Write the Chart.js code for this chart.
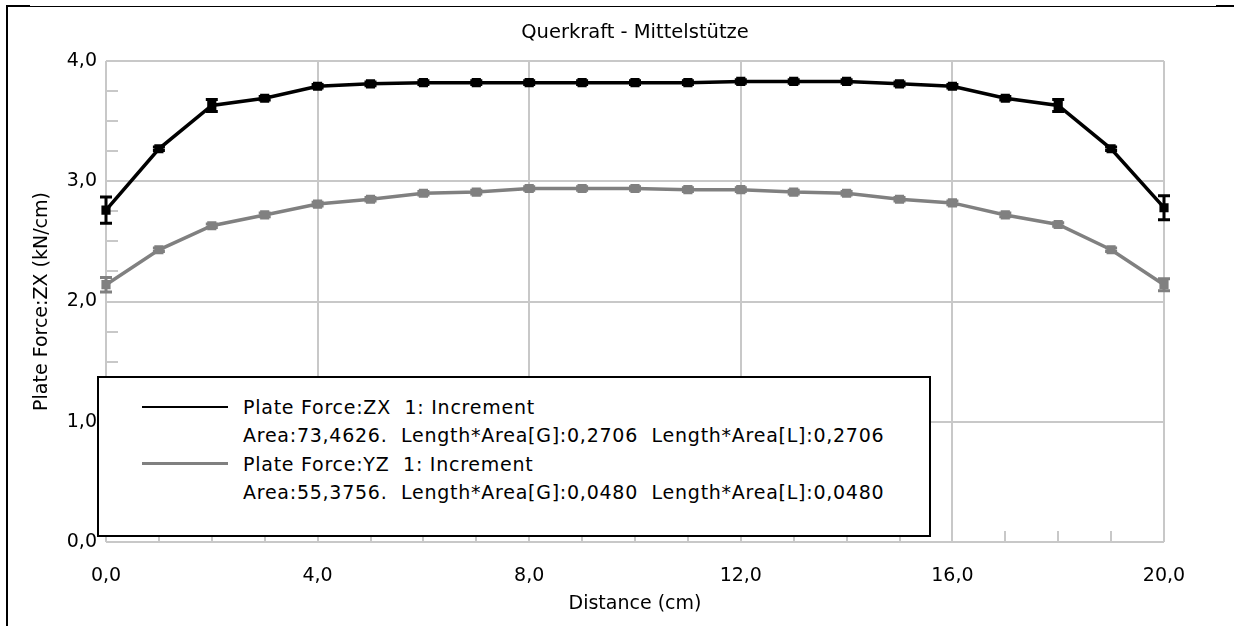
<!DOCTYPE html>
<html>
<head>
<meta charset="utf-8">
<script src="https://cdn.jsdelivr.net/npm/chart.js@4.4.0/dist/chart.umd.min.js"></script>
<style>
  html, body { margin: 0; padding: 0; background: #fff; }
  #wrap { position: relative; width: 1234px; height: 626px; overflow: hidden; }
  #frameLeft { position: absolute; left: 6px; top: 6px; width: 2px; height: 620px; background: #000; }
  #frameTop { position: absolute; left: 6px; top: 6px; width: 1228px; height: 1px; background: #000; }
  .frameTick { position: absolute; top: 5px; height: 2px; background: #000; }
  #legendBox {
    position: absolute; left: 97px; top: 376px; width: 830px; height: 142px;
    border: 2px solid #000; background: #fff;
    font-family: "DejaVu Sans", sans-serif; font-size: 19px; letter-spacing: 0.75px; color: #000;
    padding-top: 15px; box-sizing: content-box;
  }
  #legendBox .row { position: relative; height: 28.3px; line-height: 28.3px; white-space: pre; }
  #legendBox .row span { position: absolute; left: 144px; top: 0; }
  #legendBox .swatch { position: absolute; left: 43px; width: 86px; }
</style>
</head>
<body>
<div id="wrap">
  <canvas id="plateChart" width="1234" height="626"></canvas>
  <div id="frameLeft"></div>
  <div id="frameTop"></div>
  <div class="frameTick" style="left:6px;width:24px"></div>
  <div class="frameTick" style="left:1216px;width:18px"></div>
  <div id="legendBox"></div>
</div>
<script>
const chartTitle = "Querkraft - Mittelstütze";
const xTitle = "Distance (cm)";
const yTitle = "Plate Force:ZX (kN/cm)";

const distance = [0, 1, 2, 3, 4, 5, 6, 7, 8, 9, 10, 11, 12, 13, 14, 15, 16, 17, 18, 19, 20];
const forceZX = [2.76, 3.27, 3.63, 3.69, 3.79, 3.81, 3.82, 3.82, 3.82, 3.82, 3.82, 3.82, 3.83, 3.83, 3.83, 3.81, 3.79, 3.69, 3.63, 3.27, 2.78];
const errZX = [0.11, 0.015, 0.05, 0.015, 0.015, 0.015, 0.015, 0.015, 0.015, 0.015, 0.015, 0.015, 0.015, 0.015, 0.015, 0.015, 0.015, 0.015, 0.05, 0.015, 0.1];
const forceYZ = [2.14, 2.43, 2.63, 2.72, 2.81, 2.85, 2.9, 2.91, 2.94, 2.94, 2.94, 2.93, 2.93, 2.91, 2.9, 2.85, 2.82, 2.72, 2.64, 2.43, 2.14];
const errYZ = [0.06, 0.015, 0.015, 0.015, 0.015, 0.015, 0.015, 0.015, 0.015, 0.015, 0.015, 0.015, 0.015, 0.015, 0.015, 0.015, 0.015, 0.015, 0.015, 0.015, 0.05];

const seriesNames = ["Plate Force:ZX  1: Increment", "Plate Force:YZ  1: Increment"];
const seriesStats = [
  "Area:73,4626.  Length*Area[G]:0,2706  Length*Area[L]:0,2706",
  "Area:55,3756.  Length*Area[G]:0,0480  Length*Area[L]:0,0480",
];
const seriesColors = ["#000000", "#808080"];

const gridColor = "#c8c8c8";
const fmt = (v) => v.toFixed(1).replace(".", ",");

Chart.defaults.font.family = "'DejaVu Sans', sans-serif";
Chart.defaults.font.size = 19;
Chart.defaults.color = "#000";

// error bars drawn through the scales
const errorBars = {
  id: "errorBars",
  afterDatasetsDraw(chart) {
    const { ctx, scales } = chart;
    chart.data.datasets.forEach((ds) => {
      ctx.save();
      ctx.strokeStyle = ds.borderColor;
      ctx.lineWidth = 3;
      ds.data.forEach((p, j) => {
        const px = scales.x.getPixelForValue(p.x);
        const top = scales.y.getPixelForValue(p.y + ds.errors[j]);
        const bot = scales.y.getPixelForValue(p.y - ds.errors[j]);
        ctx.beginPath();
        ctx.moveTo(px, top);
        ctx.lineTo(px, bot);
        ctx.moveTo(px - 6, top);
        ctx.lineTo(px + 6, top);
        ctx.moveTo(px - 6, bot);
        ctx.lineTo(px + 6, bot);
        ctx.stroke();
      });
      ctx.restore();
    });
  },
};

const plotTitle = {
  id: "plotTitle",
  afterDraw(chart) {
    const { ctx, chartArea } = chart;
    ctx.save();
    ctx.font = "19.5px 'DejaVu Sans'";
    ctx.fillStyle = "#000";
    ctx.textAlign = "center";
    ctx.textBaseline = "middle";
    ctx.fillText(chartTitle, (chartArea.left + chartArea.right) / 2, chartArea.top - 28);
    ctx.restore();
  },
};

const toPoints = (ys) => ys.map((y, i) => ({ x: distance[i], y: y }));

new Chart(document.getElementById("plateChart"), {
  type: "line",
  data: {
    datasets: [
      {
        label: seriesNames[0],
        data: toPoints(forceZX),
        errors: errZX,
        borderColor: seriesColors[0],
        backgroundColor: seriesColors[0],
        borderWidth: 3.5,
        pointStyle: "rect",
        pointRadius: 4,
        clip: false,
      },
      {
        label: seriesNames[1],
        data: toPoints(forceYZ),
        errors: errYZ,
        borderColor: seriesColors[1],
        backgroundColor: seriesColors[1],
        borderWidth: 3.5,
        pointStyle: "rect",
        pointRadius: 4,
        clip: false,
      },
    ],
  },
  options: {
    responsive: false,
    animation: false,
    layout: { padding: { top: 61, right: 70, bottom: 0, left: 0 } },
    plugins: {
      legend: { display: false },
      tooltip: { enabled: false },
    },
    scales: {
      x: {
        type: "linear",
        min: 0,
        max: 20,
        afterFit(scale) {
          scale.height = 84;
        },
        ticks: {
          stepSize: 1,
          autoSkip: false,
          maxRotation: 0,
          padding: 34,
          callback: (v) => (v % 4 === 0 ? fmt(v) : ""),
        },
        grid: {
          color: (c) => (c.tick && c.tick.value % 4 === 0 ? gridColor : "rgba(0,0,0,0)"),
          lineWidth: 2,
          tickLength: -11,
          tickColor: gridColor,
          tickWidth: 2,
        },
        border: { display: false },
        title: { display: true, text: xTitle, padding: { top: 0, bottom: 11 } },
      },
      y: {
        min: 0,
        max: 4,
        afterFit(scale) {
          scale.width = 106;
        },
        ticks: {
          stepSize: 0.25,
          autoSkip: false,
          padding: 21,
          callback: (v) => (Number.isInteger(v) ? fmt(v) : ""),
        },
        grid: {
          color: (c) => (c.tick && Number.isInteger(c.tick.value) ? gridColor : "rgba(0,0,0,0)"),
          lineWidth: 2,
          tickLength: -12,
          tickColor: gridColor,
          tickWidth: 2,
        },
        border: { display: false },
        title: { display: true, text: yTitle, padding: { top: 31, bottom: 0 } },
      },
    },
  },
  plugins: [errorBars, plotTitle],
});

// legend with the series statistics
const legendBox = document.getElementById("legendBox");
seriesNames.forEach((name, i) => {
  const row1 = document.createElement("div");
  row1.className = "row";
  const sw = document.createElement("div");
  sw.className = "swatch";
  const thick = i === 0 ? 2 : 3;
  sw.style.height = thick + "px";
  sw.style.top = (14.15 - thick / 2) + "px";
  sw.style.background = seriesColors[i];
  row1.appendChild(sw);
  const t1 = document.createElement("span");
  t1.textContent = name;
  row1.appendChild(t1);
  legendBox.appendChild(row1);

  const row2 = document.createElement("div");
  row2.className = "row";
  const t2 = document.createElement("span");
  t2.textContent = seriesStats[i];
  row2.appendChild(t2);
  legendBox.appendChild(row2);
});
</script>
</body>
</html>
